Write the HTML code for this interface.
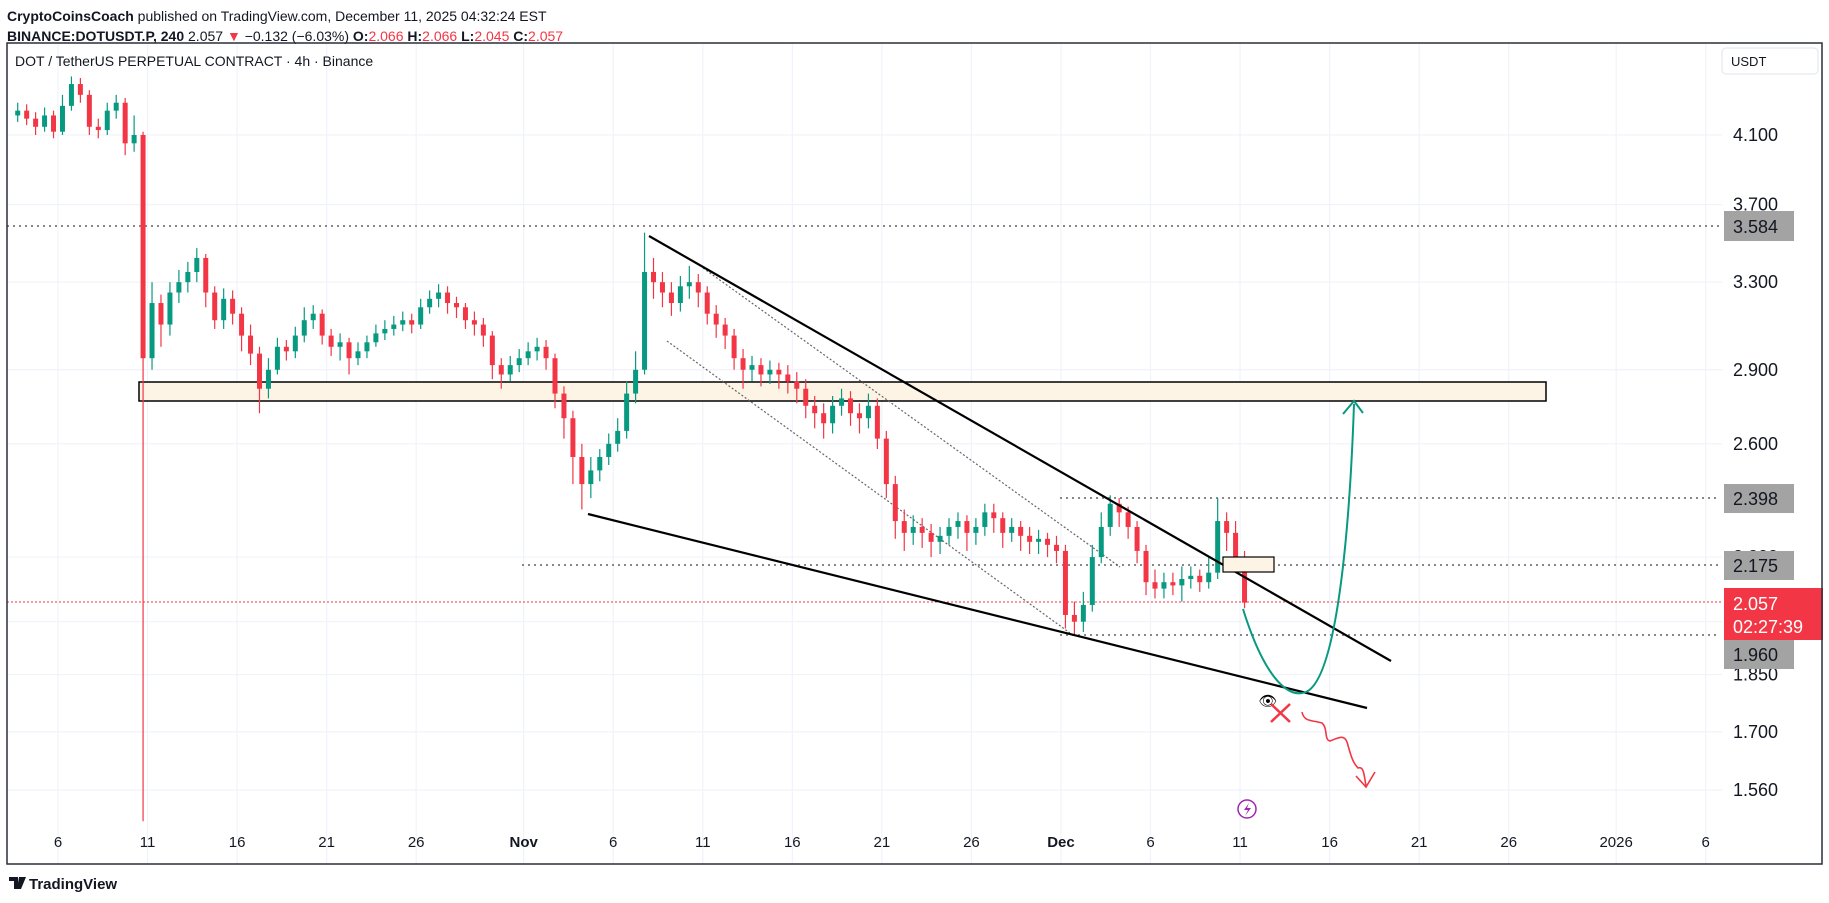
<!DOCTYPE html>
<html><head><meta charset="utf-8"><style>
html,body{margin:0;padding:0;background:#fff;}
body{width:1829px;height:903px;overflow:hidden;font-family:"Liberation Sans",sans-serif;}
svg{display:block}
</style></head><body>
<svg id="chart" width="1829" height="903" viewBox="0 0 1829 903">
<text x="7" y="21" font-size="14" fill="#131722"><tspan font-weight="bold">CryptoCoinsCoach</tspan> published on TradingView.com, December 11, 2025 04:32:24 EST</text>
<text x="7" y="41" font-size="14" fill="#131722"><tspan font-weight="bold">BINANCE:DOTUSDT.P, 240</tspan> 2.057 <tspan fill="#f23645">▼</tspan> −0.132 (−6.03%) <tspan font-weight="bold">O:</tspan><tspan fill="#f23645">2.066</tspan> <tspan font-weight="bold">H:</tspan><tspan fill="#f23645">2.066</tspan> <tspan font-weight="bold">L:</tspan><tspan fill="#f23645">2.045</tspan> <tspan font-weight="bold">C:</tspan><tspan fill="#f23645">2.057</tspan></text>
<g id="grid"></g>
<rect x="139" y="382" width="1407" height="19" fill="#fdf4e6" stroke="#000" stroke-width="1.5"/>
<line x1="7" y1="226" x2="1720" y2="226" stroke="#888" stroke-width="2" stroke-dasharray="2 4"/>
<line x1="1060" y1="498" x2="1720" y2="498" stroke="#888" stroke-width="2" stroke-dasharray="2 4"/>
<line x1="522" y1="565" x2="1720" y2="565" stroke="#888" stroke-width="2" stroke-dasharray="2 4"/>
<line x1="1060" y1="635" x2="1720" y2="635" stroke="#888" stroke-width="2" stroke-dasharray="2 4"/>
<line x1="7" y1="602" x2="1722" y2="602" stroke="#f23645" stroke-width="1" stroke-dasharray="2 2"/>
<line x1="703" y1="268" x2="1120" y2="567" stroke="#666" stroke-width="1.2" stroke-dasharray="2 2"/>
<line x1="667" y1="341" x2="1070" y2="633" stroke="#666" stroke-width="1.2" stroke-dasharray="2 2"/>
<g id="candles"></g>
<line x1="649" y1="236" x2="1391" y2="661" stroke="#000" stroke-width="2.2"/>
<line x1="588" y1="514" x2="1367" y2="708" stroke="#000" stroke-width="2.2"/>
<rect x="1223" y="557" width="51" height="15" fill="#fdf4e6" stroke="#000" stroke-width="1.2"/>
<path d="M1243,609 C1262,670 1285,700 1306,692 C1338,678 1350,520 1354,404" fill="none" stroke="#089981" stroke-width="2"/>
<path d="M1343,414 L1354,401 L1363,413" fill="none" stroke="#089981" stroke-width="2"/>
<text x="1268" y="706" font-size="15" text-anchor="middle">👁</text>
<path d="M1271,704 L1290,722 M1290,704 L1271,722" stroke="#f23645" stroke-width="2.5"/>
<path d="M1302,712 C1304,722 1312,720 1322,723 C1328,728 1324,740 1330,741 C1338,738 1344,734 1347,742 C1350,752 1352,762 1358,768 C1364,766 1364,775 1366,786" fill="none" stroke="#f23645" stroke-width="1.6"/>
<path d="M1356,776 L1366,787 L1375,772" fill="none" stroke="#f23645" stroke-width="1.6"/>
<circle cx="1247" cy="809" r="9" fill="#fff" stroke="#9c27b0" stroke-width="1.5"/>
<path d="M1249,803 L1244,810 L1248,810 L1245,816 L1251,808 L1247,808 Z" fill="#9c27b0"/>
<text x="15" y="66" font-size="14" fill="#131722">DOT / TetherUS PERPETUAL CONTRACT · 4h · Binance</text>
<g id="yaxis"></g>
<rect x="1722" y="48" width="96" height="26" rx="4" fill="#fff" stroke="#e0e3eb"/>
<text x="1731" y="66" font-size="13" fill="#131722">USDT</text>
<g><rect x="1724" y="211" width="70" height="30" fill="#a3a3a3"/><text x="1733" y="233" font-size="18" fill="#131722">3.584</text></g>
<g><rect x="1724" y="484" width="70" height="29" fill="#a3a3a3"/><text x="1733" y="505" font-size="18" fill="#131722">2.398</text></g>
<g><rect x="1724" y="551" width="70" height="29" fill="#a3a3a3"/><text x="1733" y="572" font-size="18" fill="#131722">2.175</text></g>
<g><rect x="1724" y="640" width="70" height="29" fill="#a3a3a3"/><text x="1733" y="661" font-size="18" fill="#131722">1.960</text></g>
<g><rect x="1724" y="588" width="99" height="52" fill="#f23645"/><text x="1733" y="610" font-size="18" fill="#fff">2.057</text><text x="1733" y="633" font-size="18" fill="#fff">02:27:39</text></g>
<g id="xaxis"></g>
<rect x="7" y="43" width="1815" height="821" fill="none" stroke="#2a2e39" stroke-width="1.5"/>
<g><path d="M9,877 h9 v12 h-4 v-8 h-5 z M19,877 h7 l-5,12 h-4 z" fill="#131722"/><text x="29" y="889" font-size="15" font-weight="bold" fill="#131722">TradingView</text></g>
</svg>
<script>
const firstOpen = 4.22;
const closes = [4.25,4.20,4.15,4.22,4.12,4.28,4.42,4.35,4.15,4.13,4.25,4.30,4.05,4.10,2.95,3.20,3.10,3.25,3.30,3.35,3.42,3.25,3.12,3.22,3.15,3.05,2.97,2.82,2.90,3.00,2.98,3.05,3.12,3.15,3.05,3.00,3.02,2.95,2.98,3.02,3.06,3.08,3.10,3.12,3.10,3.18,3.22,3.25,3.20,3.18,3.12,3.10,3.05,2.92,2.88,2.92,2.95,2.98,3.00,2.95,2.80,2.70,2.55,2.45,2.50,2.55,2.60,2.65,2.80,2.90,3.35,3.30,3.25,3.20,3.28,3.30,3.25,3.15,3.10,3.05,2.95,2.90,2.92,2.88,2.90,2.88,2.85,2.82,2.75,2.72,2.68,2.75,2.78,2.72,2.70,2.75,2.62,2.45,2.32,2.28,2.30,2.28,2.25,2.27,2.30,2.32,2.28,2.30,2.35,2.33,2.28,2.30,2.27,2.25,2.26,2.24,2.22,2.02,2.00,2.05,2.20,2.30,2.38,2.35,2.30,2.22,2.12,2.10,2.12,2.11,2.13,2.14,2.12,2.15,2.32,2.28,2.20,2.057];
const highs = [4.30,4.29,4.24,4.27,4.25,4.35,4.47,4.46,4.38,4.20,4.30,4.35,4.33,4.22,4.12,3.30,3.24,3.30,3.36,3.40,3.47,3.44,3.28,3.27,3.26,3.18,3.10,3.00,2.95,3.04,3.03,3.09,3.18,3.19,3.17,3.08,3.06,3.04,3.02,3.05,3.10,3.12,3.14,3.16,3.15,3.22,3.26,3.29,3.28,3.23,3.20,3.16,3.13,3.07,2.95,2.96,2.99,3.02,3.04,3.03,2.97,2.83,2.73,2.60,2.55,2.58,2.64,2.70,2.85,2.98,3.55,3.42,3.35,3.30,3.33,3.38,3.34,3.28,3.19,3.13,3.08,2.99,2.96,2.95,2.94,2.93,2.92,2.89,2.86,2.79,2.76,2.79,2.82,2.81,2.76,2.80,2.78,2.65,2.48,2.36,2.34,2.33,2.31,2.30,2.33,2.35,2.34,2.33,2.38,2.38,2.35,2.33,2.32,2.30,2.29,2.28,2.27,2.24,2.06,2.09,2.24,2.35,2.41,2.40,2.37,2.32,2.24,2.16,2.15,2.15,2.17,2.17,2.16,2.20,2.40,2.35,2.32,2.22];
const lows = [4.18,4.16,4.10,4.12,4.08,4.10,4.25,4.30,4.10,4.08,4.10,4.20,3.98,4.00,1.49,2.90,3.00,3.05,3.20,3.25,3.30,3.18,3.08,3.08,3.10,2.98,2.92,2.72,2.78,2.88,2.94,2.95,3.02,3.08,3.01,2.96,2.94,2.88,2.92,2.95,3.00,3.03,3.05,3.07,3.06,3.08,3.15,3.18,3.15,3.13,3.08,3.05,3.00,2.86,2.82,2.85,2.89,2.92,2.94,2.90,2.74,2.62,2.45,2.36,2.40,2.46,2.52,2.57,2.62,2.76,2.88,3.22,3.18,3.14,3.16,3.22,3.18,3.10,3.04,2.99,2.90,2.82,2.85,2.83,2.84,2.82,2.80,2.76,2.70,2.66,2.62,2.64,2.71,2.67,2.64,2.66,2.58,2.40,2.26,2.22,2.24,2.23,2.20,2.21,2.24,2.26,2.22,2.24,2.27,2.28,2.23,2.25,2.22,2.21,2.21,2.20,2.18,1.98,1.96,1.97,2.03,2.18,2.27,2.30,2.26,2.18,2.08,2.07,2.07,2.08,2.06,2.10,2.09,2.10,2.13,2.22,2.16,2.04];
const startDay = 2.5;
const candleDays = 0.5;
const priceTicks = [4.1,3.7,3.3,2.9,2.6,2.2,2.0,1.85,1.7,1.56];
const priceTickLabels = ["4.100","3.700","3.300","2.900","2.600","2.200","2.000","1.850","1.700","1.560"];
const dateTickDays = [5,10,15,20,25,31,36,41,46,51,56,61,66,71,76,81,86,92,97];
const dateTickLabels = ["6","11","16","21","26","Nov","6","11","16","21","26","Dec","6","11","16","21","26","2026","6"];

const NS = "http://www.w3.org/2000/svg";
function yOf(p){ return 135 + (Math.log(4.1) - Math.log(p)) * 678; }
function xOf(d){ return 58 + (d - 5) * 17.91; }
function mk(tag, attrs, parent){ const e = document.createElementNS(NS, tag); for (const k in attrs) e.setAttribute(k, attrs[k]); parent.appendChild(e); return e; }

const grid = document.getElementById('grid');
const yaxis = document.getElementById('yaxis');
const xaxis = document.getElementById('xaxis');
priceTicks.forEach((p, i) => {
  const y = yOf(p);
  const gl = mk('line', {x1:7, x2:1722, y1:y, y2:y, stroke:'#f0f3fa', 'stroke-width':1.2}, grid);
  
  
  const t = mk('text', {x:1733, y:y + 6, 'font-size':18, fill:'#131722'}, yaxis);
  t.textContent = priceTickLabels[i];
  
  
});
dateTickDays.forEach((d, i) => {
  const x = xOf(d);
  const gl = mk('line', {x1:x, x2:x, y1:43, y2:864, stroke:'#f0f3fa', 'stroke-width':1.2}, grid);
  
  
  const bold = isNaN(+dateTickLabels[i]);
  const t = mk('text', {x:x, y:847, 'font-size':15, 'text-anchor':'middle', fill:'#131722', 'font-weight': bold ? 'bold' : 'normal'}, xaxis);
  t.textContent = dateTickLabels[i];
  
  
});

const cg = document.getElementById('candles');
closes.forEach((c, i) => {
  const o = i === 0 ? firstOpen : closes[i - 1];
  const up = c >= o;
  const col = up ? '#089981' : '#f23645';
  const x = xOf(startDay + candleDays * i + candleDays / 2);
  const w = mk('line', {x1:x, x2:x, y1:yOf(highs[i]), y2:yOf(lows[i]), stroke:col, 'stroke-width':1.2}, cg);
  
  
  const yt = yOf(Math.max(o, c)), yb = yOf(Math.min(o, c));
  const b = mk('rect', {x:x - 2.5, y:yt, width:5, height:Math.max(1, yb - yt), fill:col}, cg);
  
  
});
</script>
</body></html>
